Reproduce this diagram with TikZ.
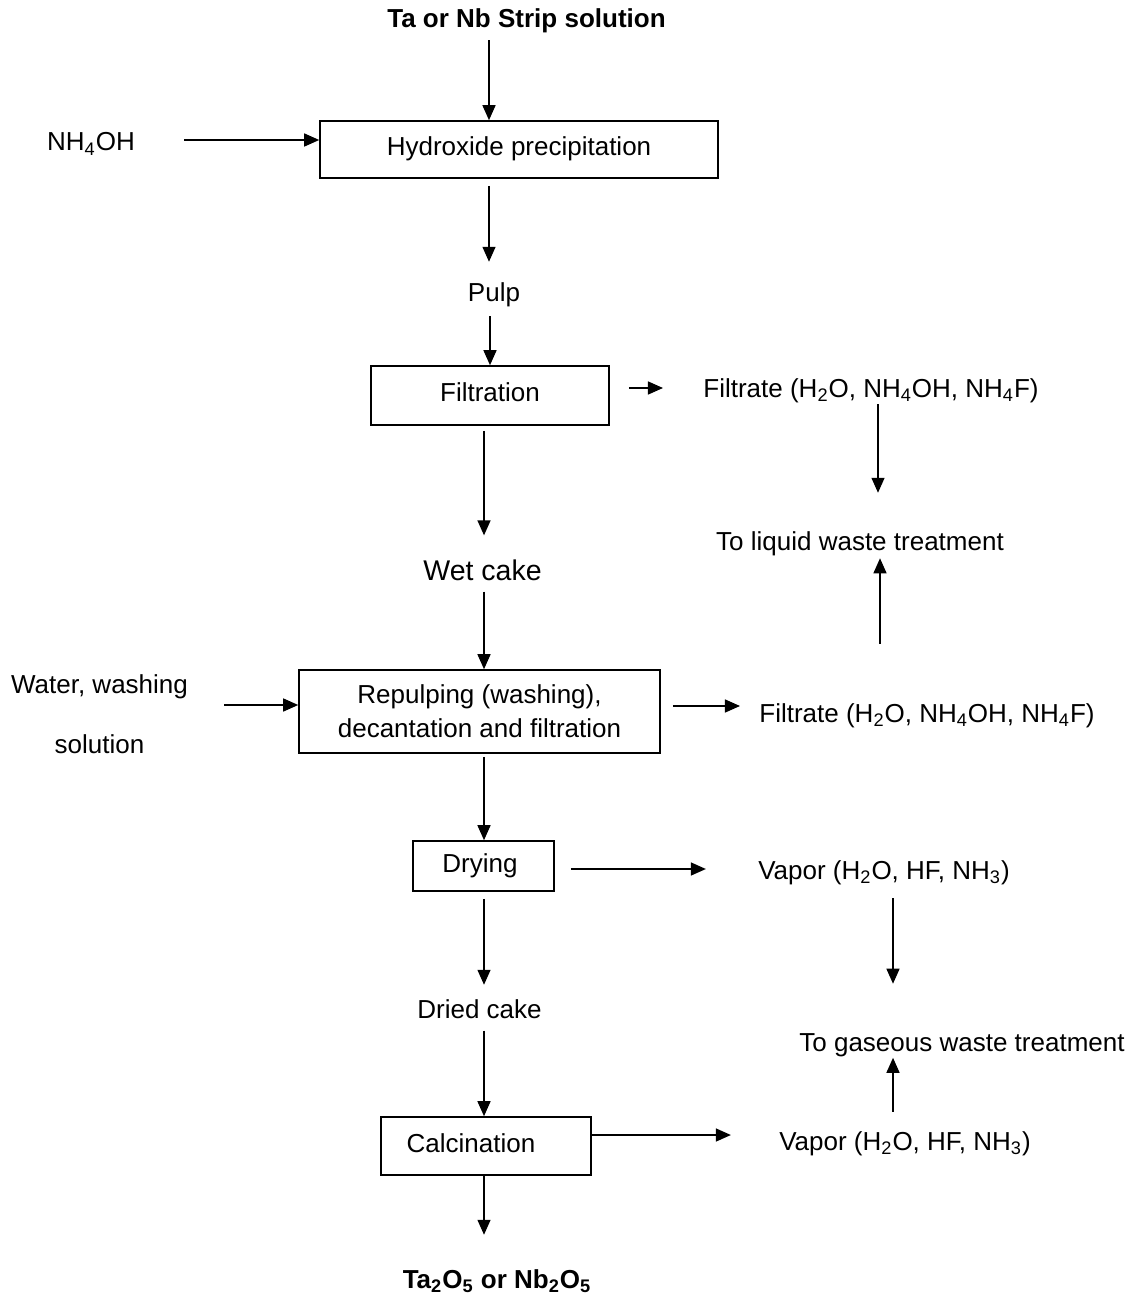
\documentclass[tikz,border=0pt]{standalone}
\usepackage{fontspec}
\setmainfont{Liberation Sans}
\usetikzlibrary{arrows.meta}
\newcommand{\chsub}[1]{\textsubscript{#1}}
\begin{document}
\begin{tikzpicture}[x=0.5pt,y=-0.5pt,
  txt/.style={inner sep=0pt, anchor=base, font=\fontsize{13}{15.6}\selectfont},
  boldtxt/.style={txt, font=\fontsize{13}{15.6}\selectfont\bfseries},
  stage/.style={draw, line width=0.8pt, inner sep=0pt,
    font=\fontsize{13}{15.6}\selectfont, execute at begin node=\strut},
  flow/.style={line width=0.7pt, -{Triangle[length=7.5pt,width=6.5pt]}},
]
\useasboundingbox (0,0) rectangle (1134,1299);

% process stages
\node[stage, minimum width=199pt, minimum height=28.5pt] (hyd) at (519,149.5) {Hydroxide precipitation};
\node[stage, minimum width=119pt, minimum height=29.5pt] (filt) at (490,395.5) {Filtration};
\node[draw, line width=0.8pt, inner sep=0pt, minimum width=180.5pt, minimum height=41.5pt,
  align=center, font=\fontsize{13}{17}\selectfont] (rep) at (479.5,711.5)
  {Repulping (washing),\\decantation and filtration};
\node[stage, minimum width=70.5pt, minimum height=25pt] (dry) at (483.5,866) {Drying\kern3.5pt};
\node[stage, minimum width=105pt, minimum height=29pt] (calc) at (486,1146) {Calcination\kern15pt};

% streams and labels
\node[boldtxt] (title) at (526.5,28) {Ta or Nb Strip solution};
\node[txt] (nh4) at (91,151) {NH\chsub{4}OH};
\node[txt] (pulp) at (494,302) {Pulp};
\node[txt] (fil1) at (871,397) {Filtrate (H\chsub{2}O, NH\chsub{4}OH, NH\chsub{4}F)};
\node[txt] (liq) at (860,550) {To liquid waste treatment};
\node[txt, font=\fontsize{14.25}{17}\selectfont] (wet) at (482.5,580) {Wet cake};
\node[inner sep=0pt, align=center, font=\fontsize{13}{30}\selectfont] (water) at (99.5,714.5)
  {Water, washing\\solution};
\node[txt] (fil2) at (927,722) {Filtrate (H\chsub{2}O, NH\chsub{4}OH, NH\chsub{4}F)};
\node[txt] (vap1) at (884,879) {Vapor (H\chsub{2}O, HF, NH\chsub{3})};
\node[txt] (dried) at (479.5,1018) {Dried cake};
\node[txt] (gas) at (962,1051) {To gaseous waste treatment};
\node[txt] (vap2) at (905,1150) {Vapor (H\chsub{2}O, HF, NH\chsub{3})};
\node[boldtxt] (prod) at (497,1288) {Ta\chsub{2}O\chsub{5} or Nb\chsub{2}O\chsub{5}};

% main line
\draw[flow, shorten <=3.25pt] (title.south -| 489,0) -- (hyd.north -| 489,0);
\draw[flow, shorten <=24.5pt] (nh4.east |- 0,140) -- (hyd.west |- 0,140);
\draw[flow, shorten <=3.5pt, shorten >=10.5pt] (hyd.south -| 489,0) -- (pulp.north -| 489,0);
\draw[flow, shorten <=4.25pt] (pulp.south -| 490,0) -- (filt.north -| 490,0);
\draw[flow, shorten <=2.5pt, shorten >=11.8pt] (filt.south -| 484,0) -- (wet.north -| 484,0);
\draw[flow, shorten <=5.5pt] (wet.south -| 484,0) -- (rep.north -| 484,0);
\draw[flow, shorten <=18pt] (water.east |- 0,705) -- (rep.west |- 0,705);
\draw[flow, shorten <=1.5pt] (rep.south -| 484,0) -- (dry.north -| 484,0);
\draw[flow, shorten <=3.5pt, shorten >=7pt] (dry.south -| 484,0) -- (dried.north -| 484,0);
\draw[flow, shorten <=6pt] (dried.south -| 484,0) -- (calc.north -| 484,0);
\draw[flow, shorten >=17pt] (calc.south -| 484,0) -- (prod.north -| 484,0);

% liquid side streams
\draw[flow, shorten <=9.5pt, shorten >=20pt] (filt.east |- 0,388) -- (fil1.west |- 0,388);
\draw[flow, shorten <=0.75pt, shorten >=19pt] (fil1.south -| 878,0) -- (liq.north -| 878,0);
\draw[flow, shorten <=6pt, shorten >=9.5pt] (rep.east |- 0,706) -- (fil2.west |- 0,706);
\draw[flow, shorten <=29.5pt, shorten >=1.25pt] (fil2.north -| 880,0) -- (liq.south -| 880,0);

% gaseous side streams
\draw[flow, shorten <=8pt, shorten >=26pt] (dry.east |- 0,869) -- (vap1.west |- 0,869);
\draw[flow, shorten <=6.75pt, shorten >=24.5pt] (vap1.south -| 893,0) -- (gas.north -| 893,0);
\draw[flow, shorten >=24pt] (calc.east |- 0,1135) -- (vap2.west |- 0,1135);
\draw[flow, shorten <=9.5pt, shorten >=0.5pt] (vap2.north -| 893,0) -- (gas.south -| 893,0);
\end{tikzpicture}
\end{document}
